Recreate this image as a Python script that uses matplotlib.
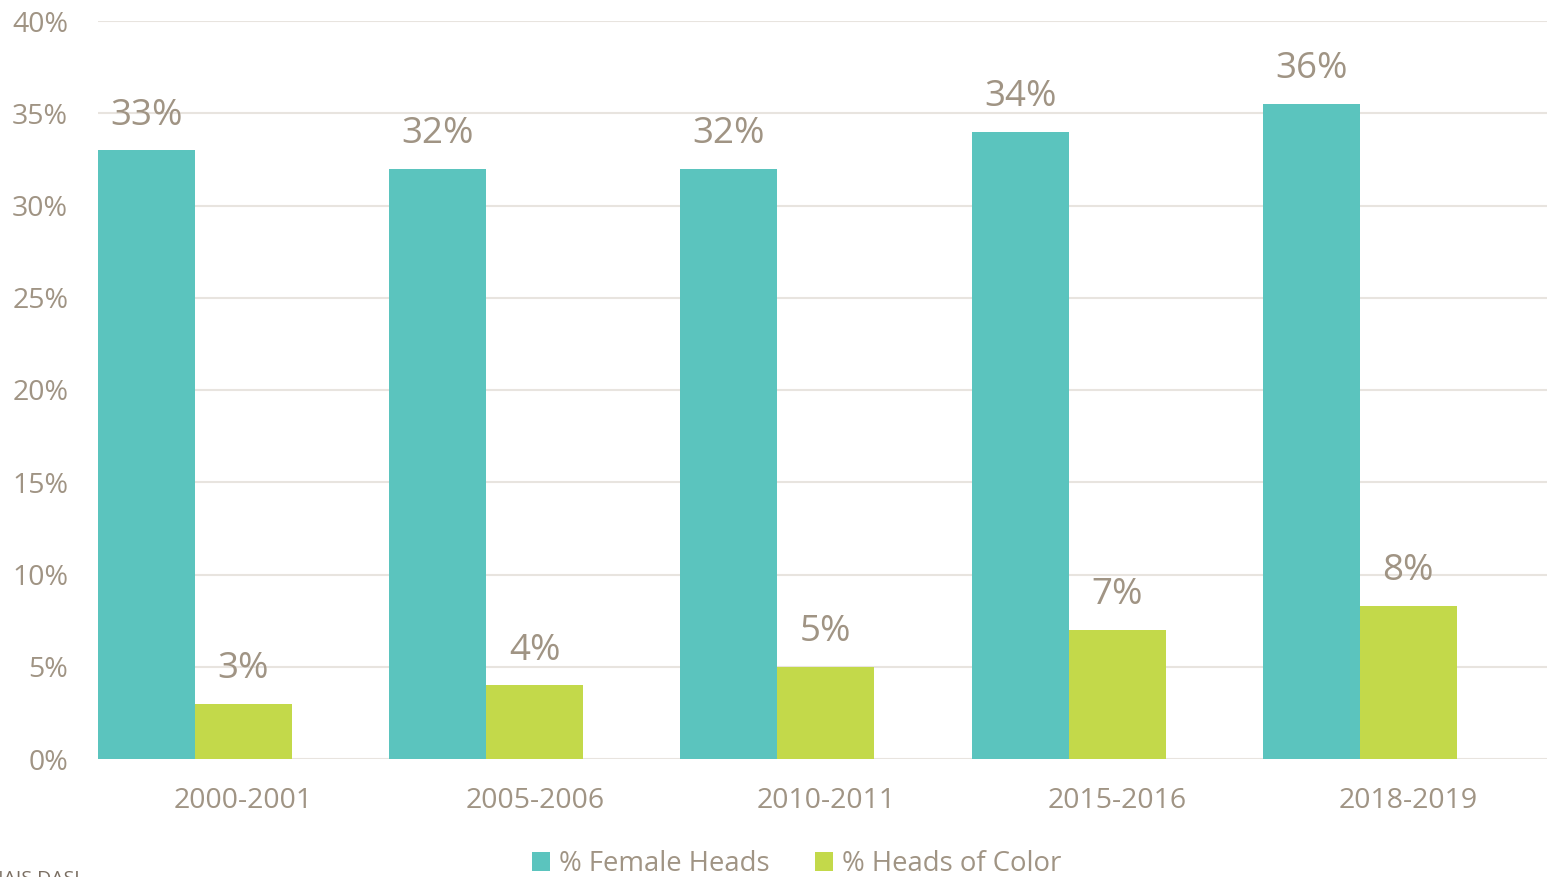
import matplotlib
matplotlib.use("Agg")
import matplotlib.pyplot as plt
import numpy as np

# data
years = ["2000-2001", "2005-2006", "2010-2011", "2015-2016", "2018-2019"]
female_heads = [33.0, 32.0, 32.0, 34.0, 35.5]
heads_of_color = [3.0, 4.0, 5.0, 7.0, 8.3]
yticks = [0, 5, 10, 15, 20, 25, 30, 35, 40]

teal = "#5BC4BE"
green = "#C3D94A"
txt = "#A09484"
grid = "#E8E4DF"

plt.rcParams["font.family"] = ["Open Sans", "DejaVu Sans"]

fig = plt.figure(figsize=(15.47, 8.77), dpi=100)
# plot area runs a little past the right edge, as in the reference
ax = fig.add_axes([98 / 1547, 1 - 759 / 877, (1554 - 98) / 1547, (759 - 21) / 877])

x = np.arange(len(years))
w = 0.333
b1 = ax.bar(x - 0.5, female_heads, w, align="edge", color=teal, label="% Female Heads")
b2 = ax.bar(x - 0.5 + w, heads_of_color, w, align="edge", color=green, label="% Heads of Color")

for bars in (b1, b2):
    for r in bars:
        ax.text(r.get_x() + r.get_width() / 2, r.get_height() + 0.9, "%.0f%%" % r.get_height(),
                ha="center", va="bottom", fontsize=26.5, color=txt)

ax.set_xlim(-0.5, 4.5)
ax.set_ylim(0, 40)
ax.set_yticks(yticks)
ax.set_yticklabels(["%d%%" % t for t in yticks])
ax.set_xticks(x)
ax.set_xticklabels(years)
ax.tick_params(axis="y", length=0, pad=21.5, labelsize=20.5, labelcolor=txt)
ax.tick_params(axis="x", length=0, pad=20, labelsize=20.5, labelcolor=txt)
ax.grid(axis="y", color=grid, linewidth=1.5)
ax.set_axisbelow(True)
for s in ax.spines.values():
    s.set_visible(False)

fig.legend(loc="center", bbox_to_anchor=(797 / 1547, 1 - 864 / 877), ncol=2, frameon=False,
           fontsize=19.8, labelcolor=txt, handlelength=0.65, handleheight=0.65,
           handletextpad=0.33, columnspacing=1.65)

# source line, clipped at the bottom edge like the reference
fig.text(84 / 1547, -0.013, "Source: NAIS DASL", fontsize=14, color="#7A6E62", ha="right", va="bottom")

fig.savefig("out.png", dpi=100)
